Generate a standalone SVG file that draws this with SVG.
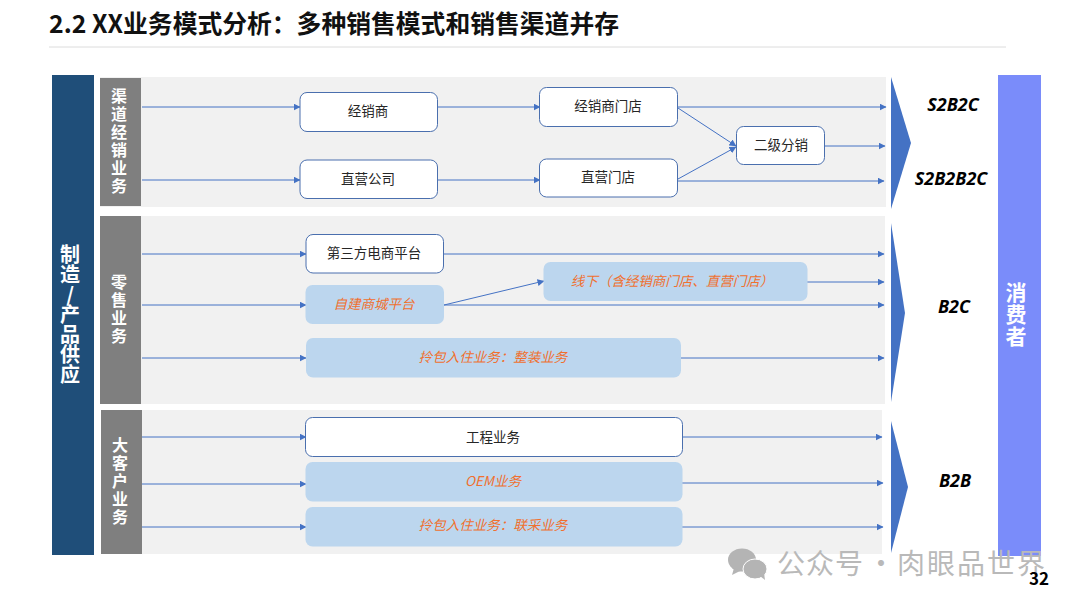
<svg xmlns="http://www.w3.org/2000/svg" width="1080" height="608" viewBox="0 0 1080 608">
<style>
text{font-family:"Noto Sans CJK SC","Liberation Sans",sans-serif}
.panel{fill:#f1f1f1}
.side{fill:#7f7f7f}
.sidet{fill:#fff;font-size:16px;font-weight:700;text-anchor:middle;writing-mode:vertical-rl;text-orientation:upright;letter-spacing:2px}
.big{fill:#fff;font-size:20px;font-weight:700;text-anchor:middle;writing-mode:vertical-rl;text-orientation:upright}
.w{fill:#fff;stroke:#4a6fae;stroke-width:1}
.b{fill:#bcd6ee}
.t{fill:#262626;font-size:13.500px;text-anchor:middle}
.o{fill:#f0702f;font-size:13.500px;font-style:italic;text-anchor:middle}
.m{fill:#000;font-size:18px;font-weight:700;font-style:italic;text-anchor:middle;font-family:"Open Sans","Noto Sans",sans-serif}
.c line{stroke:#4472c4;stroke-width:1;marker-end:url(#a)}
.chev{fill:#4472c4}
</style>
<defs><marker id="a" markerUnits="userSpaceOnUse" markerWidth="7" markerHeight="7" refX="6.5" refY="3.5" orient="auto"><path d="M0 0L7 3.5L0 7Z" fill="#4472c4"/></marker></defs>
<text x="49" y="33" font-size="24.800" font-weight="700" fill="#111">2.2 XX业务模式分析：多种销售模式和销售渠道并存</text>
<line x1="49" y1="47" x2="1006" y2="47" stroke="#dcdcdc"/>
<rect x="52" y="75" width="42" height="480" fill="#1f4e79"/>
<text class="big" x="70" y="314">制造/产品供应</text>
<rect class="panel" x="100" y="77" width="786" height="130"/>
<rect class="panel" x="100" y="216" width="785" height="188"/>
<rect class="panel" x="101" y="410" width="781" height="144"/>
<g id="side1"><rect class="side" x="100" y="78" width="41" height="128"/><text class="sidet" x="119" y="142">渠道经销业务</text></g>
<g id="side2"><rect class="side" x="100" y="216" width="41" height="188"/><text class="sidet" x="119" y="310">零售业务</text></g>
<g id="side3"><rect class="side" x="101" y="410" width="41" height="144"/><text class="sidet" x="120" y="482">大客户业务</text></g>
<g id="connectors" class="c">
<line x1="142" y1="107" x2="300" y2="107"/><line x1="438" y1="107" x2="540" y2="107"/>
<line x1="142" y1="180" x2="300" y2="180"/><line x1="438" y1="180" x2="540" y2="180"/>
<line x1="678" y1="107" x2="886" y2="107"/><line x1="678" y1="108" x2="736" y2="146"/>
<line x1="678" y1="179" x2="736" y2="147"/><line x1="678" y1="181" x2="884" y2="181"/>
<line x1="825" y1="146" x2="885" y2="146"/>
<line x1="142" y1="254" x2="306" y2="254"/><line x1="444" y1="254" x2="884" y2="254"/>
<line x1="142" y1="305" x2="306" y2="305"/><line x1="444" y1="305" x2="884" y2="305"/>
<line x1="444" y1="305" x2="544" y2="281"/><line x1="807" y1="282" x2="884" y2="282"/>
<line x1="142" y1="358" x2="306" y2="358"/><line x1="681" y1="358" x2="884" y2="358"/>
<line x1="142" y1="437" x2="306" y2="437"/><line x1="682" y1="437" x2="882" y2="437"/>
<line x1="142" y1="484" x2="306" y2="484"/><line x1="682" y1="483" x2="883" y2="483"/>
<line x1="142" y1="527" x2="306" y2="527"/><line x1="682" y1="527" x2="883" y2="527"/>
</g>
<g id="n1"><rect class="w" x="300" y="92.500" width="137.500" height="39" rx="7"/><text class="t" x="368" y="116">经销商</text></g>
<g id="n2"><rect class="w" x="300" y="160" width="137.500" height="38.500" rx="7"/><text class="t" x="368" y="184">直营公司</text></g>
<g id="n3"><rect class="w" x="539.500" y="87.500" width="138" height="39" rx="7"/><text class="t" x="608" y="111">经销商门店</text></g>
<g id="n4"><rect class="w" x="539.500" y="159" width="138" height="38" rx="7"/><text class="t" x="608" y="182">直营门店</text></g>
<g id="n5"><rect class="w" x="736.500" y="126.500" width="88" height="38" rx="7"/><text class="t" x="781" y="150">二级分销</text></g>
<g id="n6"><rect class="w" x="306" y="234.500" width="137.500" height="38.500" rx="7"/><text class="t" x="374" y="258">第三方电商平台</text></g>
<g id="n7"><rect class="b" x="305.500" y="285" width="138.500" height="39" rx="7"/><text class="o" x="374" y="309">自建商城平台</text></g>
<g id="n8"><rect class="b" x="543.500" y="262" width="264" height="39" rx="7"/><text class="o" x="672" y="286">线下（含经销商门店、直营门店）</text></g>
<g id="n9"><rect class="b" x="306" y="338" width="375" height="39.500" rx="7"/><text class="o" x="493" y="362">拎包入住业务：整装业务</text></g>
<g id="n10"><rect class="w" x="305.500" y="417.500" width="377" height="39" rx="7"/><text class="t" x="493" y="442">工程业务</text></g>
<g id="n11"><rect class="b" x="305.500" y="462" width="377" height="39.500" rx="7"/><text class="o" x="493" y="486">OEM业务</text></g>
<g id="n12"><rect class="b" x="305.500" y="507" width="377" height="39.500" rx="7"/><text class="o" x="493" y="530">拎包入住业务：联采业务</text></g>
<polygon class="chev" points="891,77 911,143 891,209"/>
<polygon class="chev" points="891,223 905,313 891,402"/>
<polygon class="chev" points="891,421 908,487 891,553"/>
<text class="m" x="953" y="111">S2B2C</text>
<text class="m" x="951" y="185">S2B2B2C</text>
<text class="m" x="954" y="313">B2C</text>
<text class="m" x="955" y="487">B2B</text>
<rect x="998" y="75" width="43" height="481" fill="#7a8cfa"/>
<text class="big" x="1016" y="315" style="font-size:21px;letter-spacing:1px">消费者</text>
<g id="watermark" fill="#b4b4b4"><ellipse cx="742" cy="560" rx="14" ry="11.500"/><path d="M734 568l-2 7 8-4z"/><ellipse cx="755" cy="569" rx="12" ry="10" stroke="#fff"/><path d="M760 576l5 4-1-7z"/><text x="777 806 835 867 897 927 957 987 1017" y="574" font-size="28" fill="#b9b9b9">公众号·肉眼品世界</text></g>
<text x="1029" y="585" font-size="17" font-weight="700" fill="#000" font-family="Open Sans,sans-serif">32</text>
</svg>
